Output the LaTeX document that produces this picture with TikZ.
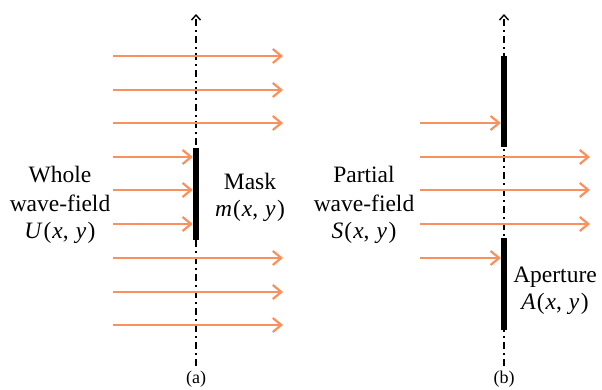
\documentclass[tikz,border=0pt]{standalone}
\usepackage{fontspec}
\setmainfont{Liberation Serif}
\newfontfamily\tnr{Liberation Serif}
\usetikzlibrary{arrows.meta}
\definecolor{ray}{RGB}{249,145,95}
\newcommand{\mv}[1]{\textit{#1}}
\newcommand{\fxy}[1]{\mv{#1}\hspace{1pt}(\hspace{1pt}\mv{x},\hspace{7pt}\mv{y}\hspace{1.5pt})}
\begin{document}
\begin{tikzpicture}[x=1pt,y=-1pt,
  rayarrow/.style={draw=ray,line width=2.3pt,-{Straight Barb[length=8.5pt,width=14pt,line width=2.2pt]}},
  axisline/.style={draw=black,line width=1.4pt,dash pattern=on 7pt off 4pt on 2pt off 4pt,-{Straight Barb[length=5pt,width=9pt,line width=1.4pt]}},
  blocker/.style={fill=black,draw=none},
  lbl/.style={font=\tnr\fontsize{23.5}{27}\selectfont,align=center,inner sep=0pt},
  captext/.style={font=\tnr\fontsize{18}{21}\selectfont,inner sep=0pt}]
\useasboundingbox (0,0) rectangle (602,390);
% axes
\coordinate (a0) at (196,366);
\coordinate (a1) at (196,14);
\coordinate (b0) at (504,366);
\coordinate (b1) at (504,14);
\draw[axisline] (a0) -- (a1);
\draw[axisline] (b0) -- (b1);
% masks
\node[blocker,minimum width=6pt,minimum height=92pt,inner sep=0pt] (maskA) at (196,194) {};
\node[blocker,minimum width=6pt,minimum height=91pt,inner sep=0pt] (apUp) at (504,101.5) {};
\node[blocker,minimum width=6pt,minimum height=92pt,inner sep=0pt] (apDn) at (504,284) {};
% left rays
\foreach \yy/\n in {56/1,90/2,123/3,258/7,292/8,325/9}{
  \coordinate (ls\n) at (113,\yy); \coordinate (le\n) at (283,\yy);
  \draw[rayarrow] (ls\n) -- (le\n);}
\foreach \yy/\n in {157/4,190/5,224/6}{
  \coordinate (ls\n) at (113,\yy);
  \draw[rayarrow] (ls\n) -- (maskA.west |- ls\n);}
% right rays
\foreach \yy/\n in {157/4,190/5,224/6}{
  \coordinate (rs\n) at (420,\yy); \coordinate (re\n) at (590,\yy);
  \draw[rayarrow] (rs\n) -- (re\n);}
\coordinate (rs3) at (420,123);
\coordinate (rs7) at (420,258);
\draw[rayarrow] (rs3) -- (apUp.west |- rs3);
\draw[rayarrow] (rs7) -- (apDn.west |- rs7);
% labels
\node[lbl] (whole) at (60,205) {Whole\\[2pt]wave-field\\[0pt]\fxy{U}};
\node[lbl] (mask) at (250,197) {Mask\\[0pt]\fxy{m}};
\node[lbl] (partial) at (364,205) {Partial\\[2pt]wave-field\\[0pt]\fxy{S}};
\node[lbl] (aperture) at (555,291) {Aperture\\[0pt]\fxy{A}};
\node[captext] (capa) at (196,379) {(a)};
\node[captext] (capb) at (504,379) {(b)};
\end{tikzpicture}
\end{document}
